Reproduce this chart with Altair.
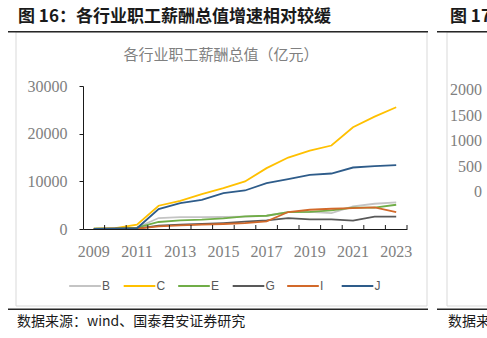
import altair as alt
import pandas as pd

# ---- data ----
years = list(range(2009, 2024))
year_labels = [2009, 2011, 2013, 2015, 2017, 2019, 2021, 2023]
series_names = ["B", "C", "E", "G", "I", "J"]
B = [60, 100, 300, 2300, 2500, 2500, 2520, 2600, 2780, 3560, 3600, 3350, 4730, 5300, 5570]
C = [80, 200, 900, 4880, 5920, 7320, 8580, 9970, 12770, 14990, 16460, 17510, 21350, 23580, 25540]
E = [60, 100, 300, 1470, 1800, 1950, 2230, 2640, 2780, 3560, 3600, 3900, 4500, 4500, 5090]
G = [40, 60, 100, 690, 900, 1050, 1250, 1530, 1800, 2300, 2020, 2020, 1740, 2580, 2580]
I = [30, 50, 80, 550, 760, 900, 1050, 1250, 1600, 3560, 4040, 4250, 4390, 4530, 3560]
J = [40, 60, 150, 4190, 5440, 6130, 7530, 8080, 9630, 10470, 11370, 11640, 12900, 13190, 13400]
y_ticks = [0, 10000, 20000, 30000]
neighbor_ticks = [0, 500, 1000, 1500, 2000]
colors = ["#C4C4C4", "#FFC000", "#70AD47", "#595959", "#D2692A", "#2E5C8A"]

page_title = "图 16：各行业职工薪酬总值增速相对较缓"
next_title = "图 17"
chart_title = "各行业职工薪酬总值（亿元）"
source_text = "数据来源：wind、国泰君安证券研究"
next_source = "数据来"

# ---- build tables ----
all_series = [B, C, E, G, I, J]
rows = []
for name, vals in zip(series_names, all_series):
    for yr, v in zip(years, vals):
        rows.append({"year": yr, "series": name, "value": v})
df = pd.DataFrame(rows)
tick_df = pd.DataFrame({"year": years})
nb_df = pd.DataFrame({"nv": neighbor_ticks})
dummy = pd.DataFrame({"a": [0]})

W, H = 324, 143
PL, PT = 83, 86
SERIF = "Liberation Serif"
CJK = "Noto Sans CJK SC"

x_scale = alt.Scale(type="band", domain=years, paddingInner=0, paddingOuter=0)
x_axis = alt.Axis(values=year_labels, title=None, labelAngle=0, ticks=False,
                  tickSize=0, labelPadding=14, labelFont=SERIF, labelFontSize=16,
                  labelColor="#808080", domainColor="#1A1A1A", domainWidth=1,
                  grid=False, labelOverlap=False, zindex=1)

lines = alt.Chart(df).mark_line(strokeWidth=1.8).encode(
    x=alt.X("year:O", scale=x_scale, bandPosition=0.5, axis=x_axis),
    y=alt.Y("value:Q", scale=alt.Scale(domain=[0, 30000], nice=False),
            axis=alt.Axis(values=y_ticks, format="d", title=None, tickSize=4,
                          tickColor="#1A1A1A", domainColor="#1A1A1A", labelPadding=12,
                          labelFont=SERIF, labelFontSize=16, labelColor="#808080",
                          grid=False, zindex=1)),
    color=alt.Color("series:N", scale=alt.Scale(domain=series_names, range=colors),
                    legend=alt.Legend(orient="none", legendX=-15, legendY=183,
                                      direction="horizontal", columns=6, title=None,
                                      symbolType="stroke", symbolSize=1000,
                                      symbolStrokeWidth=2, labelFont="Liberation Sans",
                                      labelFontSize=12, labelColor="#595959",
                                      labelOffset=0, columnPadding=7.5, gridAlign="all")),
    order=alt.Order("year:O"),
)

xticks = alt.Chart(tick_df).mark_rule(color="#1A1A1A", strokeWidth=1).encode(
    x=alt.X("year:O", scale=x_scale, bandPosition=1, axis=x_axis),
    y=alt.value(H), y2=alt.value(H - 4),
)

box = alt.Chart(dummy).mark_rect(fill="transparent", stroke="#D9D9D9", strokeWidth=1).encode(
    x=alt.value(16 - PL), x2=alt.value(427 - PL), y=alt.value(32 - PT), y2=alt.value(306 - PT))
box2 = alt.Chart(dummy).mark_rect(fill="transparent", stroke="#D9D9D9", strokeWidth=1).encode(
    x=alt.value(447 - PL), x2=alt.value(520 - PL), y=alt.value(32 - PT), y2=alt.value(306 - PT))

def hrule(x1, x2, y, w=1.5):
    return alt.Chart(dummy).mark_rule(color="#262626", strokeWidth=w).encode(
        x=alt.value(x1 - PL), x2=alt.value(x2 - PL), y=alt.value(y - PT))

def label(txt, x, y, size, weight="normal", color="#1A1A1A", align="left", font=CJK):
    return alt.Chart(dummy).mark_text(text=txt, align=align, baseline="middle", font=font,
                                      fontSize=size, fontWeight=weight, color=color).encode(
        x=alt.value(x - PL), y=alt.value(y - PT))

nb_labels = alt.Chart(nb_df).mark_text(align="right", baseline="middle", font=SERIF,
                                       fontSize=16, color="#808080").encode(
    x=alt.value(482 - PL),
    y=alt.Y("nv:Q", scale=alt.Scale(domain=[0, 2000], range=[192.3 - PT, 90 - PT]), axis=None),
    text=alt.Text("nv:Q"),
)

chart = alt.layer(
    box, box2,
    hrule(8, 428, 31.7), hrule(437, 487, 31.7),
    hrule(8, 428, 309.3), hrule(437, 487, 309.3),
    label(page_title, 18, 17, 17, weight="bold"),
    label(next_title, 450, 17, 17, weight="bold"),
    label(chart_title, 221, 54.5, 15, color="#808080", align="center"),
    label(source_text, 17, 322, 14),
    label(next_source, 448, 322, 14),
    nb_labels,
    lines,
    xticks,
).resolve_scale(y="independent").properties(
    width=W, height=H,
    autosize=alt.AutoSizeParams(type="none"),
    padding={"left": PL, "top": PT, "right": 487 - PL - W, "bottom": 338 - PT - H},
    background="white",
).configure_view(stroke="transparent")

chart.save("out.html", embed_options={"renderer": "svg", "actions": False})
